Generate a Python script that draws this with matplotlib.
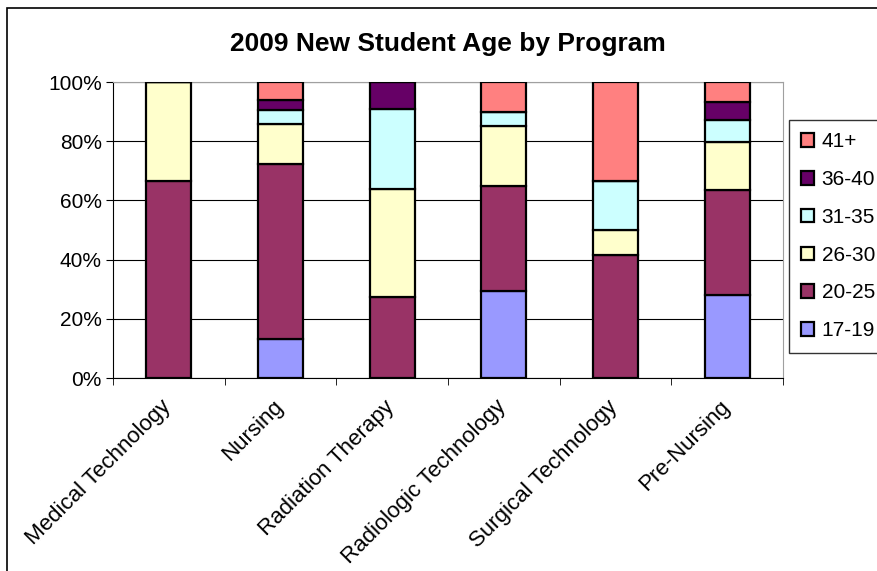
import numpy as np
import matplotlib.pyplot as plt
from matplotlib.patches import Rectangle
from matplotlib.ticker import FixedLocator, PercentFormatter
import matplotlib.transforms as mtransforms

plt.rcParams['font.family'] = ['Liberation Sans', 'DejaVu Sans']

# Programs and age-group shares (percent of new students)
programs = ['Medical Technology', 'Nursing', 'Radiation Therapy',
            'Radiologic Technology', 'Surgical Technology', 'Pre-Nursing']
age_groups = ['17-19', '20-25', '26-30', '31-35', '36-40', '41+']
age_17_19 = [0.0, 13.2, 0.0, 29.4, 0.0, 28.1]
age_20_25 = [66.7, 59.0, 27.3, 35.3, 41.7, 35.3]
age_26_30 = [33.3, 13.6, 36.4, 20.4, 8.3, 16.3]
age_31_35 = [0.0, 4.8, 27.3, 4.9, 16.7, 7.4]
age_36_40 = [0.0, 3.2, 9.0, 0.0, 0.0, 6.2]
age_41_up = [0.0, 6.2, 0.0, 10.0, 33.3, 6.7]
colors = ['#9999FF', '#993366', '#FFFFCC', '#CCFFFF', '#660066', '#FF8080']

series = [age_17_19, age_20_25, age_26_30, age_31_35, age_36_40, age_41_up]

fig = plt.figure(figsize=(8.78, 5.71), dpi=100)
# outer chart border
fig.patches.append(Rectangle((7 / 878, -0.01), 1.0, 1 - 8 / 571 + 0.01,
                             transform=fig.transFigure, fill=False,
                             edgecolor='black', linewidth=1.2))

ax = fig.add_axes([113 / 878, 1 - 378 / 571, 670 / 878, 296 / 571])
x = np.arange(len(programs))
bottom = np.zeros(len(programs))
bars = []
for vals, col, lab in zip(series, colors, age_groups):
    b = ax.bar(x, vals, width=0.4, bottom=bottom, color=col,
               edgecolor='black', linewidth=1.6, label=lab, zorder=3)
    bars.append(b)
    bottom += np.array(vals)

ax.set_xlim(-0.5, len(programs) - 0.5)
ax.set_ylim(0, 100)
ax.yaxis.set_major_locator(FixedLocator([0, 20, 40, 60, 80, 100]))
ax.yaxis.set_major_formatter(PercentFormatter(decimals=0))
ax.grid(axis='y', color='black', linewidth=0.8, zorder=0)

ax.set_xticks(x)
ax.set_xticklabels(programs, rotation=45, ha='right', va='top',
                   rotation_mode='anchor', fontsize=16)
ax.tick_params(axis='x', which='major', length=0, pad=13)
offset = mtransforms.ScaledTranslation(-6 / 72, 0, fig.dpi_scale_trans)
for lbl in ax.get_xticklabels():
    lbl.set_transform(lbl.get_transform() + offset)
ax.set_xticks(np.arange(-0.5, len(programs)), minor=True)
ax.tick_params(axis='x', which='minor', length=5, direction='out')
ax.tick_params(axis='y', labelsize=15, length=5, direction='out', pad=3)

for side in ['top', 'right']:
    ax.spines[side].set_color('#A0A0A0')
for side in ['left', 'bottom']:
    ax.spines[side].set_color('black')

ax.set_title('2009 New Student Age by Program', fontsize=19, fontweight='bold',
             pad=22)

handles = bars[::-1]
labels = age_groups[::-1]
leg = fig.legend(handles, labels, loc='upper left',
                 bbox_to_anchor=(789 / 878, 1 - 120 / 571),
                 fontsize=15, frameon=True, fancybox=False,
                 edgecolor='black', handlelength=0.62, handleheight=0.62,
                 handletextpad=0.35, labelspacing=0.9, borderpad=0.6,
                 borderaxespad=0)
leg.get_frame().set_linewidth(1.0)

fig.savefig('out.png', dpi=100)
